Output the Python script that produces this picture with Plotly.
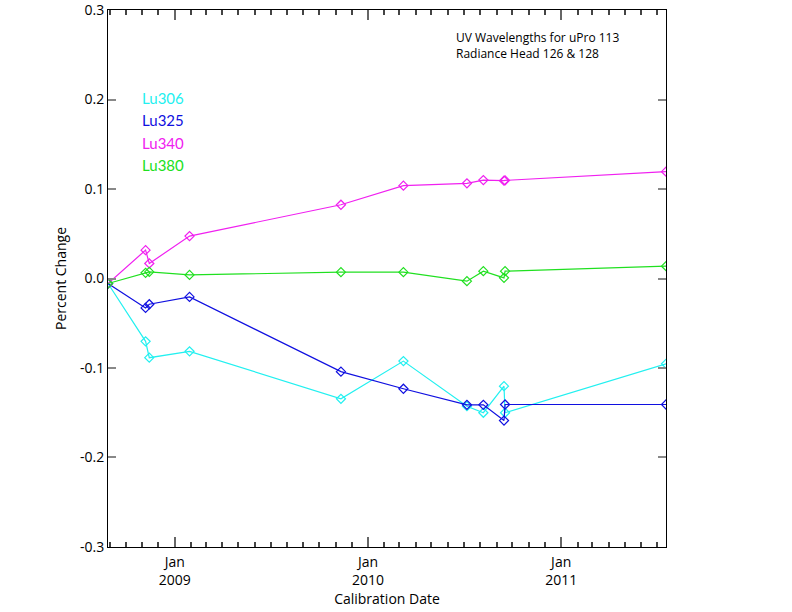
import plotly.graph_objects as go

dates = ["2008-08-28", "2008-11-07", "2008-11-14", "2009-01-29", "2009-11-11",
         "2010-03-09", "2010-07-07", "2010-08-07", "2010-09-15", "2010-09-17", "2011-07-18"]

lu306 = [-0.0056, -0.0702, -0.0885, -0.0814, -0.1344, -0.0923, -0.1427, -0.1500, -0.1203, -0.1500, -0.0953]
lu325 = [-0.0056, -0.0329, -0.0288, -0.0206, -0.1041, -0.1232, -0.1411, -0.1411, -0.1587, -0.1408, -0.1408]
lu340 = [-0.0056, 0.0317, 0.0168, 0.0474, 0.0824, 0.1037, 0.1064, 0.1100, 0.1093, 0.1096, 0.1194]
lu380 = [-0.0056, 0.0063, 0.0074, 0.0040, 0.0071, 0.0071, -0.0030, 0.0082, 0.0007, 0.0082, 0.0138]

series_names = ["Lu306", "Lu325", "Lu340", "Lu380"]
series_values = [lu306, lu325, lu340, lu380]
series_colors = ["#22f0f0", "#1010e0", "#f020f0", "#20e020"]

y_tickvals = [-0.3, -0.2, -0.1, 0.0, 0.1, 0.2, 0.3]
y_ticktext = ["-0.3", "-0.2", "-0.1", "0.0", "0.1", "0.2", "0.3"]

font_fam = "Open Sans, Noto Sans, sans-serif"

fig = go.Figure()
for name, vals, col in zip(series_names, series_values, series_colors):
    fig.add_trace(go.Scatter(
        x=dates, y=vals, name=name, mode="lines+markers",
        line=dict(color=col, width=1.2),
        marker=dict(symbol="diamond-open", size=7, color=col, line=dict(width=1.2, color=col)),
        showlegend=False,
    ))

legend_y = [0.836, 0.795, 0.752, 0.711]
for name, col, yy in zip(series_names, series_colors, legend_y):
    fig.add_annotation(xref="paper", yref="paper", x=0.057, y=yy, text=name,
                       showarrow=False, xanchor="left", yanchor="middle",
                       font=dict(family="Lato, sans-serif", size=15, color=col))

fig.add_annotation(xref="paper", yref="paper", x=0.62, y=0.934,
                   text="UV Wavelengths for uPro 113<br>Radiance Head 126 & 128",
                   showarrow=False, xanchor="left", yanchor="middle", align="left",
                   font=dict(family=font_fam, size=12, color="black"))

fig.update_layout(
    width=792, height=612,
    margin=dict(l=108, r=126, t=10, b=65),
    paper_bgcolor="white", plot_bgcolor="white",
    font=dict(family=font_fam, size=14, color="black"),
    xaxis=dict(
        type="date", range=["2008-08-28", "2011-07-18"],
        tick0="2009-01-01", dtick="M12", tickformat="%b<br>%Y",
        ticks="inside", ticklen=10, tickcolor="#666", tickwidth=1.5,
        showline=True, linecolor="black", linewidth=1, mirror="ticks",
        showgrid=False, zeroline=False, automargin=False,
        ticklabelstandoff=2,
        minor=dict(dtick="M1", ticks="inside", ticklen=5, tickcolor="#444", showgrid=False),
        title=dict(text="Calibration Date", font=dict(size=14), standoff=0),
        tickfont=dict(size=14),
    ),
    yaxis=dict(
        range=[-0.30002, 0.30002], tickvals=y_tickvals, ticktext=y_ticktext,
        ticks="inside", ticklen=8, tickcolor="#888", tickwidth=1.5,
        showline=True, linecolor="black", linewidth=1, mirror="ticks",
        showgrid=False, zeroline=False, automargin=False,
        ticklabeloverflow="allow",
        title=dict(text="Percent Change", font=dict(size=14), standoff=10),
        tickfont=dict(size=14),
    ),
)

fig.write_html("out.html", config={"displayModeBar": False},
               post_script="document.body.style.margin='0';")
